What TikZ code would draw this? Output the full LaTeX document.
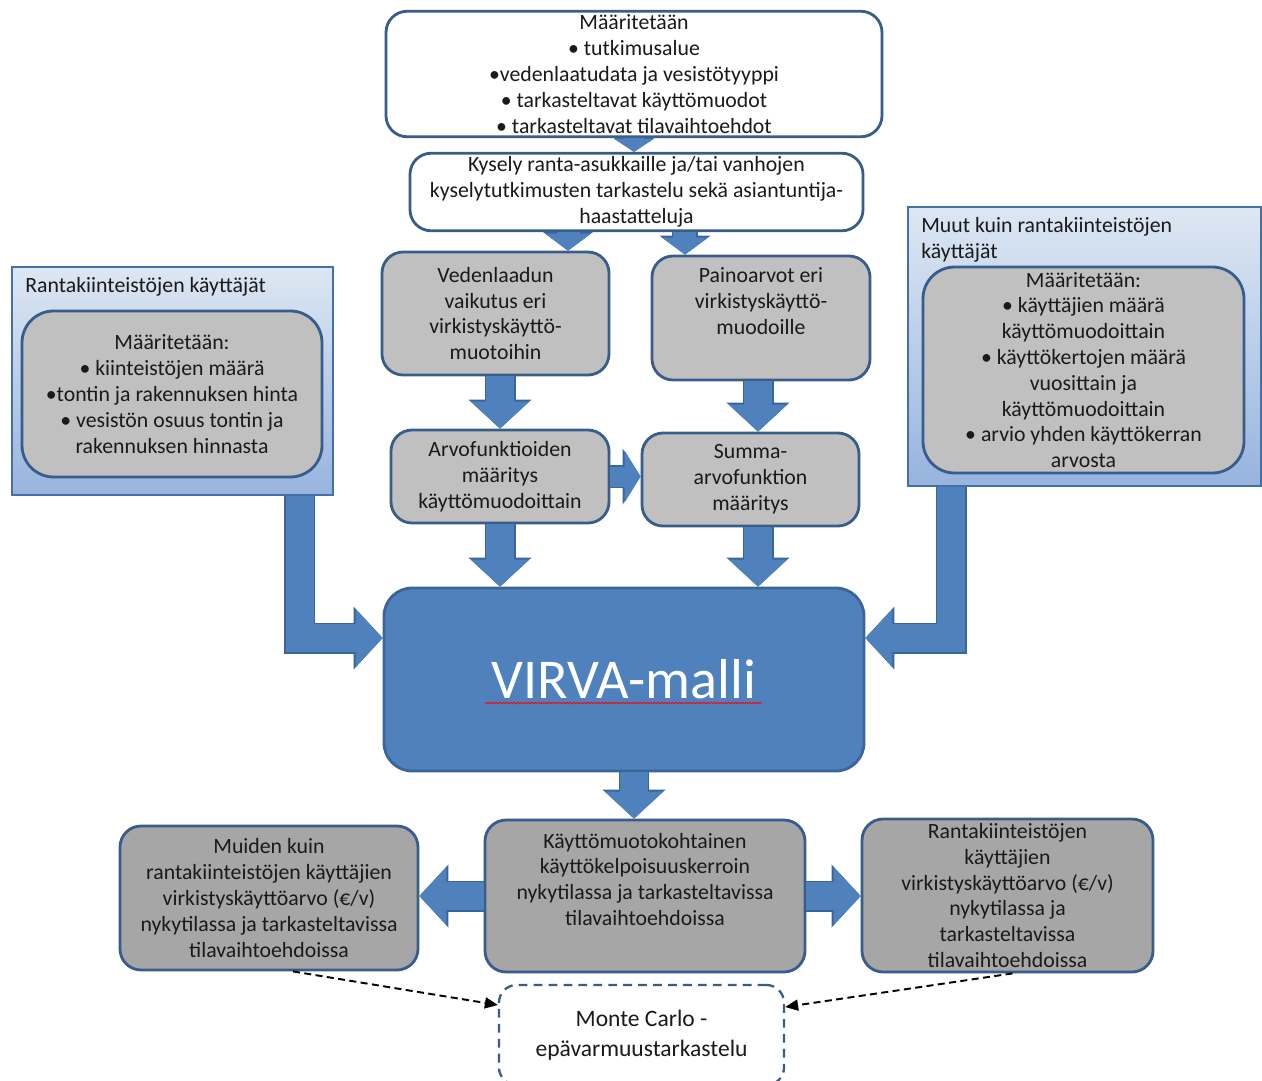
\documentclass[tikz,border=0pt]{standalone}
\usepackage{fontspec}
\setmainfont{Carlito}
\usetikzlibrary{
    arrows.meta,
    calc,
    decorations.pathmorphing
}

\definecolor{boxline}{HTML}{385D8A}
\definecolor{arrfill}{HTML}{4F81BD}
\definecolor{arrline}{HTML}{3A6598}
\definecolor{greylight}{HTML}{C0C0C0}
\definecolor{greydark}{HTML}{A6A6A6}
\definecolor{outtop}{HTML}{DDE7F3}
\definecolor{outbot}{HTML}{97B4DE}
\definecolor{outedge}{HTML}{4470AA}
\definecolor{txt}{HTML}{1A1A1A}

\tikzset{
    txtbase/.style={font=\fontsize{12.4}{14.7}\selectfont, text=txt, align=center, inner sep=2pt},
    boxsize/.style 2 args={minimum width=#1*0.02cm, minimum height=#2*0.02cm},
    whitebox/.style={txtbase, draw=boxline, line width=1.6pt, fill=white, rounded corners=12pt},
    greybox/.style={whitebox, fill=greylight},
    darkbox/.style={whitebox, fill=greydark},
    outerbox/.style={draw=outedge, line width=1.6pt, top color=outtop, bottom color=outbot},
    ttl/.style={txtbase, align=left, inner sep=0pt},
    virvabox/.style={draw=arrline, line width=1.6pt, fill=arrfill, rounded corners=16pt,
        text=white, font=\fontsize{32}{36}\selectfont},
    mcbox/.style={txtbase, draw=boxline, line width=1.3pt, dash pattern=on 5pt off 3.5pt,
        fill=white, rounded corners=10pt, font=\fontsize{13.4}{17}\selectfont},
    bigarr/.style={line width=0.56cm, draw=arrfill,
        -{Triangle[length=0.54cm, width=1.16cm, line width=0pt]},
        preaction={draw=arrline, line width=0.62cm,
            -{Triangle[length=0.58cm, width=1.26cm, line width=0pt]}}},
    smallarr/.style={line width=0.46cm, draw=arrfill,
        -{Triangle[length=0.34cm, width=0.92cm, line width=0pt]},
        preaction={draw=arrline, line width=0.52cm,
            -{Triangle[length=0.38cm, width=1.02cm, line width=0pt]}}},
    tinyarr/.style={line width=0.4cm, draw=arrfill,
        -{Triangle[length=0.26cm, width=0.8cm, line width=0pt]},
        preaction={draw=arrline, line width=0.46cm,
            -{Triangle[length=0.3cm, width=0.88cm, line width=0pt]}}},
    narrarr/.style={line width=0.4cm, draw=arrfill,
        -{Triangle[length=0.32cm, width=1.04cm, line width=0pt]},
        preaction={draw=arrline, line width=0.46cm,
            -{Triangle[length=0.36cm, width=1.12cm, line width=0pt]}}},
    dasharr/.style={draw=black, line width=1.1pt, dash pattern=on 4pt off 2.5pt,
        -{Triangle[length=0.26cm, width=0.22cm]}},
    spell/.style={draw=red, line width=0.5pt, decorate,
        decoration={snake, amplitude=0.4pt, segment length=2pt}}
}

\begin{document}
\begin{tikzpicture}[x=0.02cm, y=-0.02cm]

\fill[white] (0,0) rectangle (1262,1080);
\useasboundingbox (0,0) rectangle (1262,1080);

% Outer user boxes
\node[outerbox, boxsize={321}{228}] (lout) at (172.5,381) {};
\node[ttl, anchor=west] (ltitle) at (25,287) {Rantakiinteistöjen käyttäjät};
\node[greybox, boxsize={300}{166}, rounded corners=18pt] (lin) at (172,394)
    {Määritetään:\\ • kiinteistöjen määrä\\ •tontin ja rakennuksen hinta\\
     • vesistön osuus tontin ja\\ rakennuksen hinnasta};

\node[outerbox, boxsize={353}{279}] (rout) at (1084.5,346.5) {};
\node[ttl, anchor=west] (rtitle) at (921,240) {Muut kuin rantakiinteistöjen\\käyttäjät};
\node[greybox, boxsize={321}{206}, rounded corners=18pt] (rin) at (1083.5,370)
    {Määritetään:\\ • käyttäjien määrä\\ käyttömuodoittain\\ • käyttökertojen määrä\\
     vuosittain ja\\ käyttömuodoittain\\ • arvio yhden käyttökerran\\ arvosta};

% Top boxes
\node[whitebox, boxsize={496}{120}] (tbox) at (634,74)
    {Määritetään\\ • tutkimusalue\\ •vedenlaatudata ja vesistötyyppi\\
     • tarkasteltavat käyttömuodot\\ • tarkasteltavat tilavaihtoehdot};
\node[whitebox, boxsize={453}{72}] (kys) at (636.5,192)
    {Kysely ranta-asukkaille ja/tai vanhojen\\
     kyselytutkimusten tarkastelu sekä asiantuntija-\\ haastatteluja};

% Middle boxes
\node[greybox, boxsize={227}{123}] (vaik) at (495.5,313.5)
    {Vedenlaadun\\ vaikutus eri\\ virkistyskäyttö-\\ muotoihin};
\node[greybox, boxsize={218}{124}] (paino) at (761,318)
    {Painoarvot eri\\ virkistyskäyttö-\\ muodoille\\ \strut};
\node[greybox, boxsize={218}{93}] (arvo) at (500,476.5)
    {Arvofunktioiden\\ määritys\\ käyttömuodoittain};
\node[greybox, boxsize={217}{93}] (summa) at (750.5,479.5)
    {Summa-\\ arvofunktion\\ määritys};

% Model
\node[virvabox, boxsize={480}{183}] (virva) at (624,679.5) {VIRVA-malli};
\draw[spell] ([xshift=-2.78cm,yshift=-0.47cm]virva.center) -- ([xshift=2.76cm,yshift=-0.47cm]virva.center);

% Result boxes
\node[darkbox, boxsize={320}{152}] (kerr) at (645,896)
    {Käyttömuotokohtainen\\ käyttökelpoisuuskerroin\\ nykytilassa ja tarkasteltavissa\\
     tilavaihtoehdoissa\\ \strut};
\node[darkbox, boxsize={298}{144}] (muid) at (269,898)
    {Muiden kuin\\ rantakiinteistöjen käyttäjien\\ virkistyskäyttöarvo (€/v)\\
     nykytilassa ja tarkasteltavissa\\ tilavaihtoehdoissa};
\node[darkbox, boxsize={291}{153}] (rarvo) at (1007.5,895.5)
    {Rantakiinteistöjen\\ käyttäjien\\ virkistyskäyttöarvo (€/v)\\ nykytilassa ja\\
     tarkasteltavissa\\ tilavaihtoehdoissa};

% Monte Carlo
\node[mcbox, boxsize={285}{100}] (mc) at (641.5,1035)
    {Monte Carlo -\\ epävarmuustarkastelu};

% Block arrows
\draw[tinyarr] (tbox.south) -- (kys.north -| tbox.south);
\draw[smallarr] ([xshift=-1.37cm]kys.south) coordinate (k1) -- (vaik.north -| k1);
\draw[smallarr] ([xshift=0.97cm]kys.south) coordinate (k2) -- (paino.north -| k2);
\draw[bigarr] (vaik.south -| arvo.north) -- (arvo.north);
\draw[bigarr] ([xshift=-0.06cm]paino.south) coordinate (p1) -- (summa.north -| p1);
\draw[narrarr] (arvo.east) -- (arvo.east -| summa.west);
\draw[bigarr] (arvo.south) -- (arvo.south |- virva.north);
\draw[bigarr] ([xshift=0.15cm]summa.south) coordinate (s1) -- (s1 |- virva.north);
\draw[bigarr] ([xshift=2.55cm]lout.south) |- ([yshift=0.83cm]virva.west);
\draw[bigarr] ([xshift=-2.67cm]rout.south) |- ([yshift=0.83cm]virva.east);
\draw[bigarr] ([xshift=0.2cm]virva.south) coordinate (v1) -- (kerr.north -| v1);
\draw[bigarr] (kerr.west) -- (kerr.west -| muid.east);
\draw[bigarr] (kerr.east) -- (kerr.east -| rarvo.west);

% Uncertainty links
\draw[dasharr] ([xshift=0.48cm]muid.south) -- ([yshift=0.6cm]mc.west);
\draw[dasharr] ([xshift=0.1cm]rarvo.south) -- ([yshift=0.56cm]mc.east);

\end{tikzpicture}
\end{document}
